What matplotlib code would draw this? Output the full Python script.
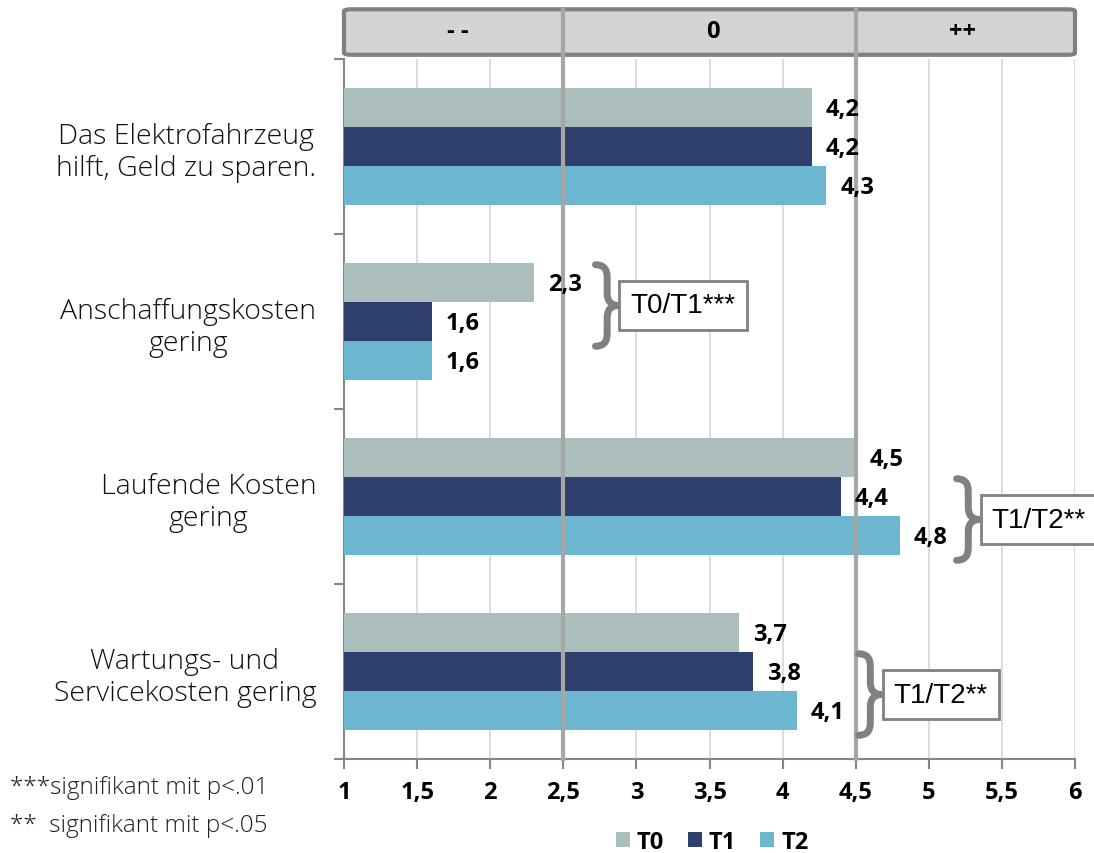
import numpy as np
import matplotlib.pyplot as plt
from matplotlib.path import Path
from matplotlib.patches import PathPatch, FancyBboxPatch
import matplotlib.transforms as mtransforms

plt.rcParams['font.family'] = ['Open Sans', 'DejaVu Sans']

# Daten
categories = ["Das Elektrofahrzeug\nhilft, Geld zu sparen.",
              "Anschaffungskosten\ngering",
              "Laufende Kosten\ngering",
              "Wartungs- und\nServicekosten gering"]
series = ["T0", "T1", "T2"]
t0 = [4.2, 2.3, 4.5, 3.7]
t1 = [4.2, 1.6, 4.4, 3.8]
t2 = [4.3, 1.6, 4.8, 4.1]
colors = ["#abbdbc", "#2f3f6d", "#6cb6d0"]
xticks = [1, 1.5, 2, 2.5, 3, 3.5, 4, 4.5, 5, 5.5, 6]
scale_labels = ["- -", "0", "++"]
# Signifikanz: (Kategorie, erste Reihe, zweite Reihe, Text, x der Klammer)
sig = [(1, 0, 1, "T0/T1***", 2.72),
       (2, 1, 2, "T1/T2**", 5.19),
       (3, 1, 2, "T1/T2**", 4.52)]
footnotes = ["***signifikant mit p<.01", "**  signifikant mit p<.05"]

fig = plt.figure(figsize=(10.94, 8.54), dpi=100)
ax = fig.add_axes([344 / 1094, 1 - 760 / 854, 731 / 1094, 700 / 854])

h = 0.223
y = np.arange(len(categories))
values = [t0, t1, t2]
for i, (vals, c, name) in enumerate(zip(values, colors, series)):
    ax.barh(y + (i - 1) * h, vals, height=h, color=c, label=name, zorder=3)
    for yy, v in zip(y + (i - 1) * h, vals):
        ax.annotate(f"{v:.1f}".replace(".", ","), (v, yy), xytext=(10, -1),
                    textcoords="offset points", va="center", ha="left",
                    fontsize=17, fontweight="bold", zorder=5)

ax.set_xlim(1, 6)
ax.set_ylim(len(categories) - 0.5, -0.5)

# Gitter
for x in xticks:
    if x in (2.5, 4.5):
        continue
    ax.axvline(x, color="#d9d9d9", lw=1.3, zorder=1)
trans = mtransforms.blended_transform_factory(ax.transData, ax.transAxes)
for x in (2.5, 4.5):
    ax.plot([x, x], [0, 1.07], transform=trans, color="#a6a6a6", lw=3,
            clip_on=False, zorder=4)

# Kopfzeile
box = FancyBboxPatch((1.0, 1.006), 5.0, 0.065, transform=trans,
                     boxstyle="round,pad=0,rounding_size=0.05",
                     mutation_aspect=0.06,
                     facecolor="#d4d4d4", edgecolor="#808080", lw=3,
                     clip_on=False, zorder=2)
ax.add_patch(box)
for xc, s in zip([1.78, 3.52, 5.23], scale_labels):
    ax.text(xc, 1.04, s, transform=trans, ha="center", va="center",
            fontsize=17, fontweight="bold", zorder=5)

# Achsen
for s in ("top", "right"):
    ax.spines[s].set_visible(False)
for s in ("left", "bottom"):
    ax.spines[s].set_color("#868686")
    ax.spines[s].set_linewidth(1.5)
ax.set_xticks(xticks)
ax.set_xticklabels([f"{x:g}".replace(".", ",") for x in xticks],
                   fontsize=17, fontweight="bold")
ax.tick_params(axis="x", length=7, width=1.5, color="#868686", pad=8)
ax.set_yticks(y)
ax.set_yticklabels(categories, fontsize=20.5, linespacing=1.2, fontweight="light",
                   color="#111111")
for lab in ax.get_yticklabels():
    lab.set_multialignment("center")
ax.tick_params(axis="y", which="major", length=0, pad=20)
ax.set_yticks(np.arange(-0.5, len(categories)), minor=True)
ax.tick_params(axis="y", which="minor", length=7, width=1.5, color="#868686")

# Klammern
def brace(x0, ytop, ybot, w=0.16, r=0.07):
    xm = x0 + w * 0.5
    ymid = (ytop + ybot) / 2
    verts = [(x0, ytop), (xm, ytop), (xm, ytop + r),
             (xm, ymid - r), (xm, ymid), (x0 + w, ymid),
             (xm, ymid), (xm, ymid + r),
             (xm, ybot - r), (xm, ybot), (x0, ybot)]
    codes = [Path.MOVETO, Path.CURVE3, Path.CURVE3,
             Path.LINETO, Path.CURVE3, Path.CURVE3,
             Path.CURVE3, Path.CURVE3,
             Path.LINETO, Path.CURVE3, Path.CURVE3]
    ax.add_patch(PathPatch(Path(verts, codes), fill=False, edgecolor="#808080",
                           lw=5, capstyle="round", clip_on=False, zorder=5))

for cat, a, b, txt, bx in sig:
    ytop = cat + (a - 1) * h - h / 2 + 0.01
    ybot = cat + (b - 1) * h + h / 2 + 0.03
    brace(bx, ytop, ybot)
    ax.text(bx + 0.24, (ytop + ybot) / 2, txt, ha="left", va="center",
            fontsize=20, family=["Liberation Sans", "DejaVu Sans"],
            bbox=dict(boxstyle="square,pad=0.4", fc="white", ec="#808080", lw=2),
            clip_on=False, zorder=6)

# Fußnoten
fig.text(10 / 1094, 1 - 788 / 854, footnotes[0], fontsize=17.5, va="center",
         color="#222222", fontweight="light")
fig.text(10 / 1094, 1 - 826 / 854, footnotes[1], fontsize=17.5, va="center",
         color="#222222", fontweight="light")

leg = fig.legend(loc="center", bbox_to_anchor=(712 / 1094, 1 - 843 / 854),
                 ncol=3, frameon=False, handlelength=0.6, handleheight=0.6,
                 handletextpad=0.3, columnspacing=1.0,
                 prop={"size": 17, "weight": "bold"})

fig.savefig("out.png", dpi=100)
